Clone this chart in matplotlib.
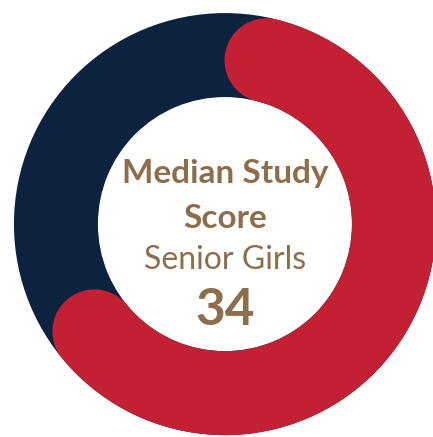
import matplotlib
matplotlib.use('Agg')
import matplotlib.pyplot as plt
import numpy as np
from matplotlib.patches import Wedge, PathPatch
from matplotlib.path import Path

# data
score = 34
score_max = 50
title_lines = ['Median Study', 'Score']
subtitle = 'Senior Girls'

navy = '#0C2340'
red = '#C42033'
brown = '#8C6E4B'

fig = plt.figure(figsize=(4.33, 4.37), dpi=100)
ax = fig.add_axes([0, 0, 1, 1])
ax.set_xlim(-1.066, 0.986)
ax.set_ylim(-1.009, 1.062)
ax.set_aspect('equal')
ax.axis('off')

r_out = 1.0
r_in = 0.602
r_mid = (r_out + r_in) / 2
half_w = (r_out - r_in) / 2

# background ring
ax.add_patch(Wedge((0, 0), r_out, 0, 360, width=r_out - r_in, facecolor=navy, edgecolor='none'))

# red arc with round caps, visual extent = score/score_max of the circle from 12 o'clock
cap = np.degrees(half_w / r_mid)
sweep = score / score_max * 360
t1 = 90 - cap
t2 = 90 - sweep + cap
th = np.radians(np.linspace(t1, t2, 200))
outer = np.column_stack([r_out * np.cos(th), r_out * np.sin(th)])
inner = np.column_stack([r_in * np.cos(th[::-1]), r_in * np.sin(th[::-1])])

def cap_pts(t, direction):
    c = np.array([r_mid * np.cos(np.radians(t)), r_mid * np.sin(np.radians(t))])
    if direction > 0:
        a = np.radians(np.linspace(t, t - 180, 60))
    else:
        a = np.radians(np.linspace(t + 180, t, 60))
    return c + half_w * np.column_stack([np.cos(a), np.sin(a)])

pts = np.vstack([outer, cap_pts(t2, 1), inner, cap_pts(t1, -1)])
ax.add_patch(PathPatch(Path(pts, closed=False), facecolor=red, edgecolor='none'))

# centre text
ax.text(0, 0.194, title_lines[0], ha='center', va='baseline', fontsize=24,
        fontweight='bold', color=brown, family='Lato')
ax.text(0, -0.017, title_lines[1], ha='center', va='baseline', fontsize=24,
        fontweight='bold', color=brown, family='Lato')
ax.text(0, -0.215, subtitle, ha='center', va='baseline', fontsize=23,
        fontweight='normal', color=brown, family='Lato')
ax.text(0, -0.479, str(score), ha='center', va='baseline', fontsize=37,
        fontweight='bold', color=brown, family='Lato')

fig.savefig('out.png', dpi=100, facecolor='white')
